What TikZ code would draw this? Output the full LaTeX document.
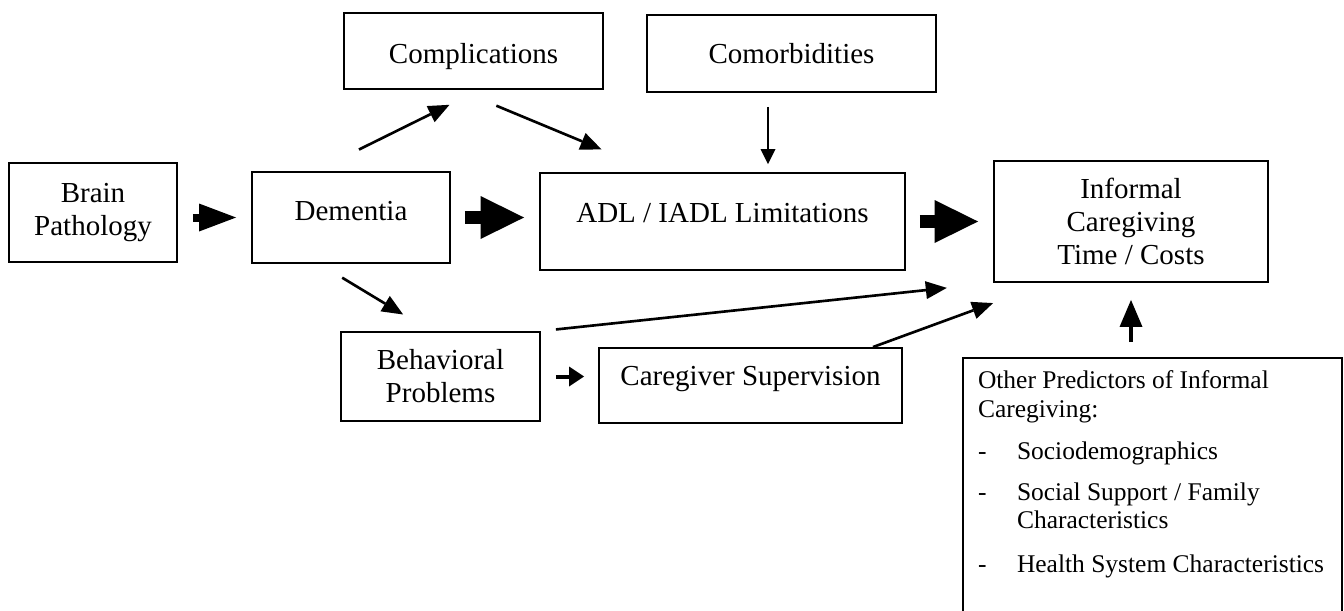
\documentclass[tikz,border=0pt]{standalone}
\usepackage{fontspec}
\setmainfont{Liberation Serif}
\usetikzlibrary{arrows.meta}
\usetikzlibrary{positioning}

\begin{document}
\begin{tikzpicture}[on grid,
                box/.style={draw, line width=1.1pt, inner sep=0pt, font=\fontsize{16.5pt}{18.7pt}\selectfont},
                thinarrow/.style={line width=1.5pt, -{Triangle[length=0.42cm,width=0.36cm,line width=0pt]}},
                fatarrow/.style={line width=0.25cm, -{Triangle[length=0.87cm,width=0.86cm,line width=0pt]}}]
                \useasboundingbox (0,0) rectangle (26.88,-12.2);
                \node[box, align=center, minimum width=3.36cm, minimum height=1.98cm] (brain) at (1.86,-4.25) {Brain\\Pathology};
                \node[box, minimum width=3.96cm, text height=0.96cm, text depth=0.86cm] [below right=0.1cm and 5.16cm of brain] (dementia) {Dementia};
                \node[box, minimum width=7.3cm, text height=0.98cm, text depth=0.96cm] [below right=0.08cm and 7.43cm of dementia] (adl) {ADL / IADL Limitations};
                \node[box, align=center, minimum width=5.48cm, minimum height=2.42cm] [right=8.17cm of adl] (informal) {Informal\\Caregiving\\Time / Costs};
                \node[box, minimum width=5.18cm, text height=1cm, text depth=0.52cm] [above right=3.33cm and 2.45cm of dementia] (compl) {Complications};
                \node[box, minimum width=5.78cm, text height=0.96cm, text depth=0.58cm] [below right=0.05cm and 6.36cm of compl] (comorb) {Comorbidities};
                \node[box, align=center, minimum width=3.98cm, minimum height=1.78cm] [below right=3.18cm and 1.79cm of dementia] (behav) {Behavioral\\Problems};
                \node[box, minimum width=6.06cm, text height=0.74cm, text depth=0.76cm] [below right=0.18cm and 6.2cm of behav] (careg) {Caregiver Supervision};
                \node[box, font=\fontsize{14.5pt}{16.2pt}\selectfont] [below right=5.41cm and 0.43cm of informal] (other)
                    {\parbox[c][5.36cm][t]{7.58cm}{\vspace*{0.22cm}\hspace*{0.3cm}%
                    \begin{tabular}[t]{@{}p{0.78cm}@{}l@{}}
                    \multicolumn{2}{@{}l@{}}{Other Predictors of Informal}\\
                    \multicolumn{2}{@{}l@{}}{Caregiving:}\\[0.27cm]
                    - & Sociodemographics\\[0.25cm]
                    - & Social Support / Family\\
                     & Characteristics\\[0.31cm]
                    - & Health System Characteristics
                    \end{tabular}}};
                \path[fatarrow]
                (brain.east |- dementia.west) edge [line width=0.16cm, -{Triangle[length=0.74cm,width=0.56cm,line width=0pt]}, shorten <=0.3cm, shorten >=0.3cm] (dementia.west)
                (dementia.east) edge [shorten <=0.28cm, shorten >=0.3cm] (dementia.east -| adl.west)
                (adl.east) edge [shorten <=0.28cm, shorten >=0.3cm] (adl.east -| informal.west)
                (behav.east) edge [line width=0.08cm, -{Triangle[length=0.3cm,width=0.4cm,line width=0pt]}, shorten <=0.3cm, shorten >=0.28cm] (behav.east -| careg.west);
                \path[thinarrow]
                ([xshift=-0.71cm]dementia.north) edge [shorten <=0.97cm, shorten >=0.67cm] ([xshift=0.12cm]compl.south)
                ([xshift=-0.3cm]compl.south) edge [shorten <=0.82cm, shorten >=1.18cm] ([xshift=-1.33cm]adl.north)
                ([xshift=-0.47cm]comorb.south) edge [line width=1pt, -{Triangle[length=0.3cm,width=0.3cm,line width=0pt]}, shorten <=0.28cm, shorten >=0.16cm] ([xshift=0.91cm]adl.north)
                ([xshift=-0.63cm]dementia.south) edge [shorten <=0.53cm, shorten >=0.64cm] ([xshift=-0.2cm]behav.north)
                (behav.north east) edge [shorten <=0.3cm, shorten >=0.93cm] (informal.south west)
                ([xshift=2.45cm]careg.north) edge [shorten >=1.17cm] ([xshift=-1.66cm]informal.south)
                (informal.south |- other.north) edge [line width=2.2pt, -{Triangle[length=0.54cm,width=0.46cm,line width=0pt]}, shorten <=0.3cm, shorten >=0.34cm] (informal.south);
            \end{tikzpicture}
\end{document}
